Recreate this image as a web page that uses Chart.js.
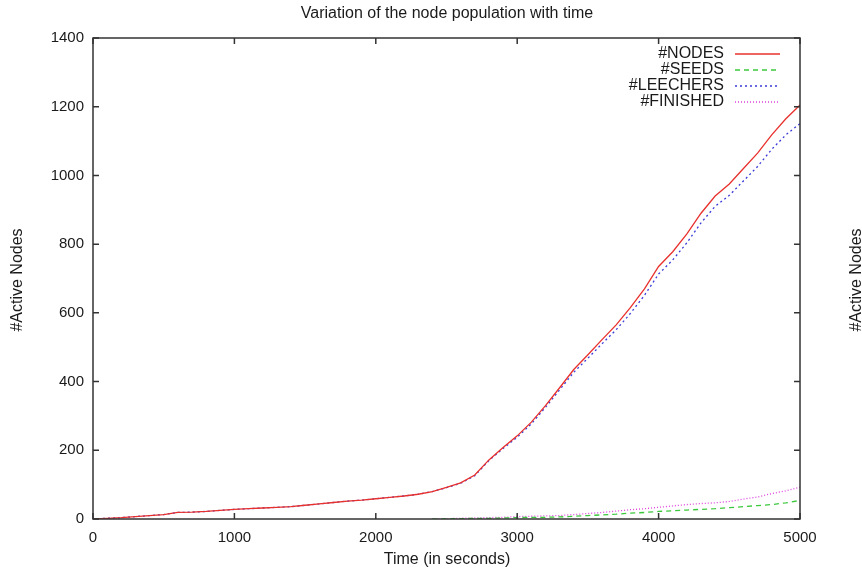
<!DOCTYPE html>
<html>
<head>
<meta charset="utf-8">
<script src="https://cdn.jsdelivr.net/npm/chart.js@4.4.1/dist/chart.umd.min.js"></script>
<style>
  html, body { margin: 0; padding: 0; background: #fff; }
  #wrap { width: 862px; height: 571px; position: relative; }
</style>
</head>
<body>
<div id="wrap"><canvas id="nodesChart" width="862" height="571"></canvas></div>
<script>
// время (сек) и число узлов
const timeSec = [0,100,200,300,400,500,600,700,800,900,1000,1100,1200,1300,1400,1500,1600,1700,1800,1900,
  2000,2100,2200,2300,2400,2500,2600,2700,2800,2900,3000,3100,3200,3300,3400,3500,3600,3700,3800,3900,
  4000,4100,4200,4300,4400,4500,4600,4700,4800,4900,5000];

const nodesCount = [0,2,4,7,10,13,19,20,22,25,28,30,32,34,36,40,44,48,52,55,
  59,63,67,72,80,92,105,128,172,208,242,282,330,382,435,478,522,565,615,670,
  735,778,830,890,940,975,1020,1065,1118,1165,1205];

const seedsCount = [null,null,null,null,null,null,null,null,null,null,null,null,null,null,null,null,null,null,null,null,
  null,null,null,null,0,1,1,2,2,3,4,5,5,6,8,10,12,14,17,19,
  22,24,26,28,30,33,36,39,42,47,54];

const leechersCount = [0,2,4,7,10,13,19,20,22,25,28,30,32,34,36,40,44,48,52,55,
  59,63,67,72,80,91,104,126,170,205,238,277,325,376,427,468,510,551,598,651,
  713,754,804,862,910,942,984,1026,1076,1118,1151];

const finishedCount = [null,null,null,null,null,null,null,null,null,null,null,null,null,null,null,null,null,null,null,null,
  null,null,null,null,0,1,2,3,4,5,7,8,9,10,13,16,19,23,27,30,
  34,38,42,45,47,51,58,64,74,82,93];

const seriesLabels = ['#NODES', '#SEEDS', '#LEECHERS', '#FINISHED'];
const seriesColors = ['#e8302c', '#3cc83c', '#3a3ad8', '#e040e0'];
const seriesDash   = [[], [5, 4], [2, 3], [1, 2]];

const xTicks = [0, 1000, 2000, 3000, 4000, 5000];
const yTicks = [0, 200, 400, 600, 800, 1000, 1200, 1400];

const FONT = '"Liberation Sans", Arial, sans-serif';
const TXT = '#1a1a1a';

function pts(vals) {
  return timeSec.map((t, i) => ({ x: t, y: vals[i] }));
}

// рамка, внутренние засечки, заголовки и легенда в стиле gnuplot
const gnuplotLook = {
  id: 'gnuplotLook',
  afterDraw(chart) {
    const { ctx, chartArea: a, scales } = chart;
    const L = 6;
    ctx.save();
    ctx.strokeStyle = '#333';
    ctx.lineWidth = 1.5;
    ctx.strokeRect(a.left, a.top, a.right - a.left, a.bottom - a.top);
    ctx.beginPath();
    xTicks.forEach(v => {
      const px = scales.x.getPixelForValue(v);
      ctx.moveTo(px, a.bottom); ctx.lineTo(px, a.bottom - L);
      ctx.moveTo(px, a.top);    ctx.lineTo(px, a.top + L);
    });
    yTicks.forEach(v => {
      const py = scales.y.getPixelForValue(v);
      ctx.moveTo(a.left, py);  ctx.lineTo(a.left + L, py);
      ctx.moveTo(a.right, py); ctx.lineTo(a.right - L, py);
    });
    ctx.stroke();

    ctx.fillStyle = TXT;
    ctx.font = '16px ' + FONT;
    ctx.textAlign = 'center';
    ctx.textBaseline = 'middle';
    ctx.fillText('Variation of the node population with time', 447, 14);
    ctx.fillText('Time (in seconds)', 447, 560);
    [18, 857].forEach(x => {
      ctx.save();
      ctx.translate(x, 280);
      ctx.rotate(-Math.PI / 2);
      ctx.fillText('#Active Nodes', 0, 0);
      ctx.restore();
    });

    // легенда
    ctx.textAlign = 'right';
    seriesLabels.forEach((lbl, i) => {
      const y = 54 + i * 16;
      ctx.fillStyle = TXT;
      ctx.fillText(lbl, 724, y);
      ctx.strokeStyle = seriesColors[i];
      ctx.lineWidth = 1.5;
      ctx.setLineDash(seriesDash[i]);
      ctx.beginPath();
      ctx.moveTo(735, y); ctx.lineTo(780, y);
      ctx.stroke();
      ctx.setLineDash([]);
    });
    ctx.restore();
  }
};

const seriesValues = [nodesCount, seedsCount, leechersCount, finishedCount];

new Chart(document.getElementById('nodesChart').getContext('2d'), {
  type: 'line',
  data: {
    datasets: seriesValues.map((vals, i) => ({
      label: seriesLabels[i],
      data: pts(vals),
      borderColor: seriesColors[i],
      borderWidth: 1.3,
      borderDash: seriesDash[i]
    }))
  },
  options: {
    responsive: false,
    animation: false,
    layout: { padding: { left: 0, right: 62, top: 38, bottom: 0 } },
    elements: { point: { radius: 0 }, line: { tension: 0 } },
    plugins: { legend: { display: false }, title: { display: false }, tooltip: { enabled: false } },
    scales: {
      x: {
        type: 'linear', min: 0, max: 5000,
        grid: { display: false, drawTicks: false }, border: { display: false },
        afterBuildTicks: s => { s.ticks = xTicks.map(v => ({ value: v })); },
        afterFit: s => { s.height = 52; },
        ticks: { padding: 10, color: TXT, font: { family: FONT, size: 15 }, maxRotation: 0,
                 callback: v => String(v) }
      },
      y: {
        min: 0, max: 1400,
        grid: { display: false, drawTicks: false }, border: { display: false },
        afterBuildTicks: s => { s.ticks = yTicks.map(v => ({ value: v })); },
        afterFit: s => { s.width = 93; },
        ticks: { padding: 9, color: TXT, font: { family: FONT, size: 15 },
                 callback: v => String(v) }
      }
    }
  },
  plugins: [gnuplotLook]
});
</script>
</body>
</html>
